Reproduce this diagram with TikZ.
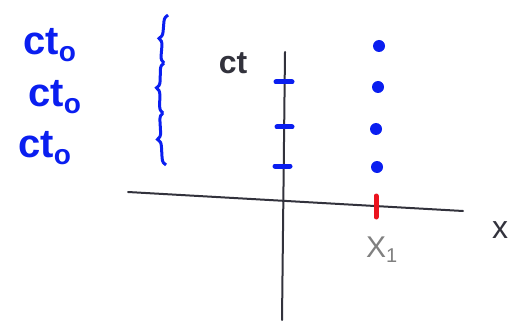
\documentclass[tikz,border=0pt]{standalone}
\usepackage{fontspec}
\setsansfont{Liberation Sans}
\usetikzlibrary{decorations.pathreplacing}
\definecolor{pen}{RGB}{10,30,240}
\definecolor{ink}{RGB}{50,50,60}
\definecolor{redpen}{RGB}{235,20,30}
\tikzset{
  axisline/.style={draw=ink, line width=2pt, line cap=round},
  tickmark/.style={draw=pen, line width=5pt, line cap=round},
  dotmark/.style={circle, fill=pen, inner sep=0pt, minimum size=12pt},
  bluelabel/.style={text=pen, font=\sffamily\bfseries\fontsize{40}{40}\selectfont, inner sep=0pt},
  bracemark/.style={draw=pen, line width=3pt, decorate, decoration={brace, amplitude=7pt, aspect=0.5}},
}
\begin{document}
\begin{tikzpicture}[x=1pt, y=-1pt]
\useasboundingbox (0,0) rectangle (518,323);
% axes
\coordinate (vtop) at (285,52);
\coordinate (vbot) at (282,320);
\coordinate (hleft) at (128,192);
\coordinate (hright) at (463,211);
\draw[axisline] (vtop) -- (vbot);
\draw[axisline] (hleft) -- (hright);
% ticks on vertical axis
\coordinate (t1a) at (276,82); \coordinate (t1b) at (292,82);
\coordinate (t2a) at (277,127); \coordinate (t2b) at (292,127);
\coordinate (t3a) at (275,166); \coordinate (t3b) at (290,166);
\draw[tickmark] (t1a) -- (t1b);
\draw[tickmark] (t2a) -- (t2b);
\draw[tickmark] (t3a) -- (t3b);
% blue dots
\node[dotmark] (d1) at (379,46) {};
\node[dotmark] (d2) at (378,87) {};
\node[dotmark] (d3) at (376,129) {};
\node[dotmark] (d4) at (377,167) {};
% red tick
\coordinate (ra) at (376,196);
\coordinate (rb) at (376,217);
\draw[draw=redpen, line width=5pt, line cap=round] (ra) -- (rb);
% labels
\node[text=ink, font=\sffamily\bfseries\fontsize{32}{32}\selectfont, inner sep=0pt] (ct) at (233,63) {ct};
\node[text=gray, font=\sffamily\fontsize{30}{30}\selectfont, inner sep=0pt] (x1) at (382,250) {X\textsubscript{\fontsize{20}{20}\selectfont 1}};
\node[text=ink, font=\sffamily\fontsize{32}{32}\selectfont, inner sep=0pt, anchor=west] (xl) at (492,230) {x};
\node[bluelabel] (c1) at (50,45) {ct\textsubscript{o}};
\node[bluelabel] (c2) at (55,97) {ct\textsubscript{o}};
\node[bluelabel] (c3) at (45,148) {ct\textsubscript{o}};
% braces
\coordinate (b0) at (168,15);
\coordinate (b1) at (164,63);
\coordinate (b2) at (163,113);
\coordinate (b3) at (166,165);
\draw[bracemark] (b1) -- (b0);
\draw[bracemark] (b2) -- (b1);
\draw[bracemark] (b3) -- (b2);
\end{tikzpicture}
\end{document}
